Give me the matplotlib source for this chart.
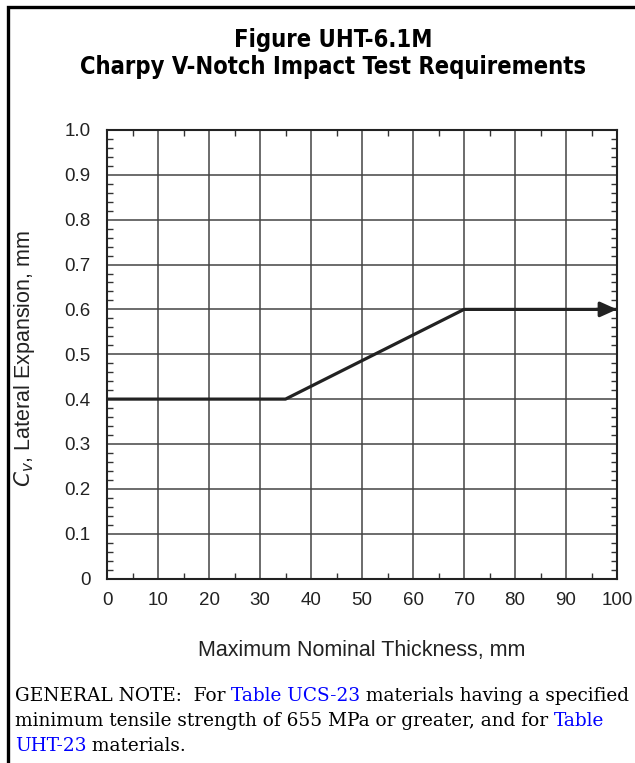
import matplotlib
matplotlib.use("Agg")
import matplotlib.pyplot as plt
from matplotlib.patches import Rectangle
from matplotlib.ticker import MultipleLocator, FixedLocator

# data
thickness = [0, 35, 70, 100]
lateral_exp = [0.4, 0.4, 0.6, 0.6]
x_ticks = [0, 10, 20, 30, 40, 50, 60, 70, 80, 90, 100]
y_ticks = [0, 0.1, 0.2, 0.3, 0.4, 0.5, 0.6, 0.7, 0.8, 0.9, 1.0]
y_labels = ["0", "0.1", "0.2", "0.3", "0.4", "0.5", "0.6", "0.7", "0.8", "0.9", "1.0"]

note_parts = [
    [("GENERAL NOTE:  For ", "black"), ("Table UCS-23", "#0000ff"),
     (" materials having a specified", "black")],
    [("minimum tensile strength of 655 MPa or greater, and for ", "black"),
     ("Table", "#0000ff")],
    [("UHT-23", "#0000ff"), (" materials.", "black")],
]

W, H = 635, 763
fig = plt.figure(figsize=(W / 100, H / 100), dpi=100)

# outer frame (runs off the right and bottom edge)
fig.patches.append(Rectangle((8 / W, -0.1), 1.2, (H - 7.5) / H + 0.1,
                             transform=fig.transFigure, fill=False,
                             lw=2.4, ec="black"))

title_font = ["DejaVu Sans Condensed", "Liberation Sans Narrow", "DejaVu Sans"]
fig.text(333 / W, 1 - 40 / H, "Figure UHT-6.1M", ha="center", va="center",
         fontsize=17, fontweight="bold", family=title_font,
         fontstretch="condensed")
fig.text(333 / W, 1 - 67 / H, "Charpy V-Notch Impact Test Requirements",
         ha="center", va="center", fontsize=17, fontweight="bold",
         family=title_font, fontstretch="condensed")

sans = ["Liberation Sans", "DejaVu Sans"]
ax = fig.add_axes([107 / W, 1 - 578.5 / H, 510 / W, 448.5 / H])
ax.plot(thickness, lateral_exp, color="#222222", lw=2.3, solid_capstyle="butt")
ax.annotate("", xy=(thickness[-1], lateral_exp[-1]),
            xytext=(thickness[-1] - 4, lateral_exp[-1]),
            arrowprops=dict(arrowstyle="-|>,head_length=1.0,head_width=0.45",
                            color="#222222", lw=2.3, shrinkA=0, shrinkB=0))

ax.set_xlim(0, 100)
ax.set_ylim(0, 1.0)
ax.xaxis.set_major_locator(FixedLocator(x_ticks))
ax.yaxis.set_major_locator(FixedLocator(y_ticks))
ax.set_yticklabels(y_labels)
ax.xaxis.set_minor_locator(MultipleLocator(5))
ax.yaxis.set_minor_locator(MultipleLocator(0.02))
ax.grid(True, which="major", color="#444444", lw=1.1)
ax.tick_params(which="major", length=0, labelsize=13.5)
ax.tick_params(axis="x", which="major", pad=10)
ax.tick_params(axis="y", which="major", pad=12)
ax.tick_params(which="minor", direction="in", length=4, width=1,
               top=True, right=True, color="#333333")
for lbl in ax.get_xticklabels() + ax.get_yticklabels():
    lbl.set_family(sans)
    lbl.set_color("#222222")
for s in ax.spines.values():
    s.set_linewidth(1.5)
    s.set_color("#222222")

ax.set_xlabel("Maximum Nominal Thickness, mm", fontsize=15.5, family=sans,
              color="#222222")
ax.set_ylabel(r"$C_v$, Lateral Expansion, mm", fontsize=15.5, family=sans,
              color="#222222")
ax.xaxis.set_label_coords(0.5, -0.137)
ax.yaxis.set_label_coords(-0.137, 0.49)

# general note, pieced together so the table references can be blue
fig.canvas.draw()
renderer = fig.canvas.get_renderer()
line_y = [696, 721, 746]
for parts, yy in zip(note_parts, line_y):
    x = 15
    for txt, col in parts:
        t = fig.text(x / W, 1 - yy / H, txt, color=col, fontsize=13.3,
                     family=["DejaVu Serif", "Liberation Serif"], va="center",
                     ha="left")
        bb = t.get_window_extent(renderer)
        x += bb.width

fig.savefig("out.png", dpi=100)
